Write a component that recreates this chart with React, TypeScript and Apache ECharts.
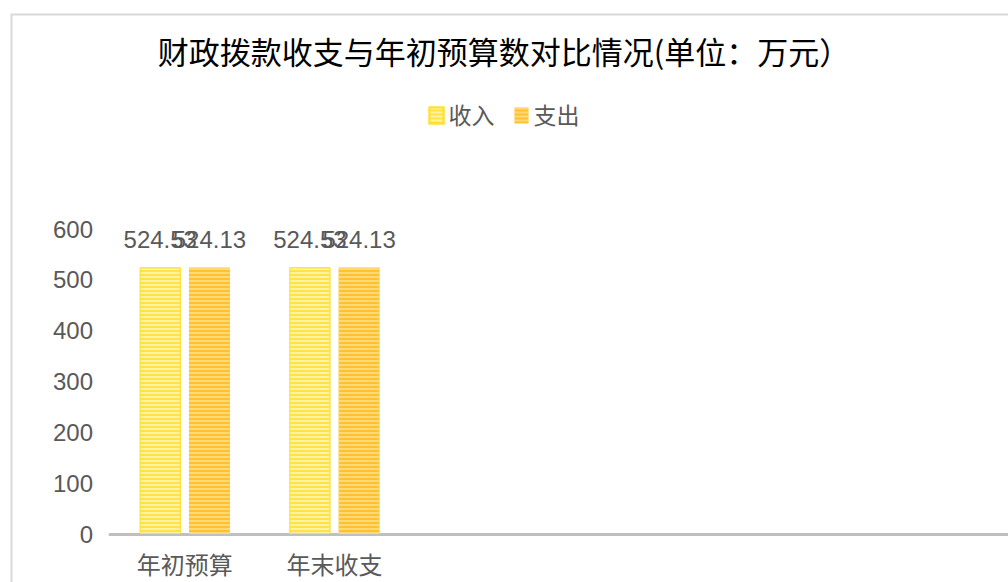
import React, { useEffect, useRef } from "react";
import * as echarts from "echarts";

const categories = ["年初预算", "年末收支", "", "", "", ""];
const incomeValues = [524.53, 524.53];
const expenseValues = [524.13, 524.13];
const seriesNames = ["收入", "支出"];
const titleText = "财政拨款收支与年初预算数对比情况(单位：万元）";

const FONT = "'Liberation Sans', 'Noto Sans CJK SC', sans-serif";
const GRAY = "#595959";

export default function App() {
  const ref = useRef<HTMLDivElement>(null);
  useEffect(() => {
    if (!ref.current) return;
    const chart = echarts.init(ref.current, undefined, { renderer: "svg" });
    const stripe = (c: string) => ({
      symbol: "rect",
      symbolSize: 1,
      dashArrayX: [[1, 0]],
      dashArrayY: [1.5, 1.5],
      rotation: 0,
      color: c,
    });
    const label = {
      show: true,
      position: "top",
      distance: 16,
      fontFamily: FONT,
      fontSize: 24,
      color: GRAY,
    };
    chart.setOption({
      animation: false,
      backgroundColor: "#ffffff",
      graphic: [
        {
          type: "rect",
          left: 9,
          top: 12,
          shape: { width: 1200, height: 700 },
          style: { fill: "none", stroke: "#d9d9d9", lineWidth: 2 },
          silent: true,
          z: -10,
        },
      ],
      title: {
        text: titleText,
        left: "center",
        top: 30,
        textStyle: {
          fontFamily: "'Noto Sans CJK SC', sans-serif",
          fontSize: 31,
          fontWeight: "normal",
          color: "#000000",
        },
      },
      legend: {
        top: 99,
        left: "center",
        icon: "rect",
        itemWidth: 14,
        itemHeight: 16,
        itemGap: 20,
        textStyle: { fontFamily: FONT, fontSize: 23, color: GRAY },
        data: seriesNames,
      },
      grid: { left: 110, right: -8, top: 229, bottom: 48, containLabel: false },
      xAxis: {
        type: "category",
        data: categories,
        axisLine: { lineStyle: { color: "#bfbfbf", width: 3 } },
        axisTick: { show: false },
        axisLabel: { fontFamily: FONT, fontSize: 24, color: GRAY, margin: 19 },
      },
      yAxis: {
        type: "value",
        min: 0,
        max: 600,
        interval: 100,
        axisLine: { show: false },
        axisTick: { show: false },
        splitLine: { show: false },
        axisLabel: { fontFamily: FONT, fontSize: 24, color: GRAY, margin: 17 },
      },
      series: [
        {
          name: seriesNames[0],
          type: "bar",
          data: incomeValues,
          barWidth: 41,
          barGap: "20%",
          itemStyle: {
            color: "#FFE24A",
            borderColor: "#FFE033",
            borderWidth: 1,
            decal: stripe("rgba(255,248,190,0.75)"),
          },
          label,
        },
        {
          name: seriesNames[1],
          type: "bar",
          data: expenseValues,
          barWidth: 41,
          itemStyle: {
            color: "#FFC12E",
            borderColor: "#FFC000",
            borderWidth: 0,
            decal: stripe("rgba(255,225,140,0.75)"),
          },
          label,
        },
      ],
    });
    return () => chart.dispose();
  }, []);
  return (
    <div
      ref={ref}
      style={{ position: "fixed", left: 0, top: 0, width: 1008, height: 582 }}
    />
  );
}
